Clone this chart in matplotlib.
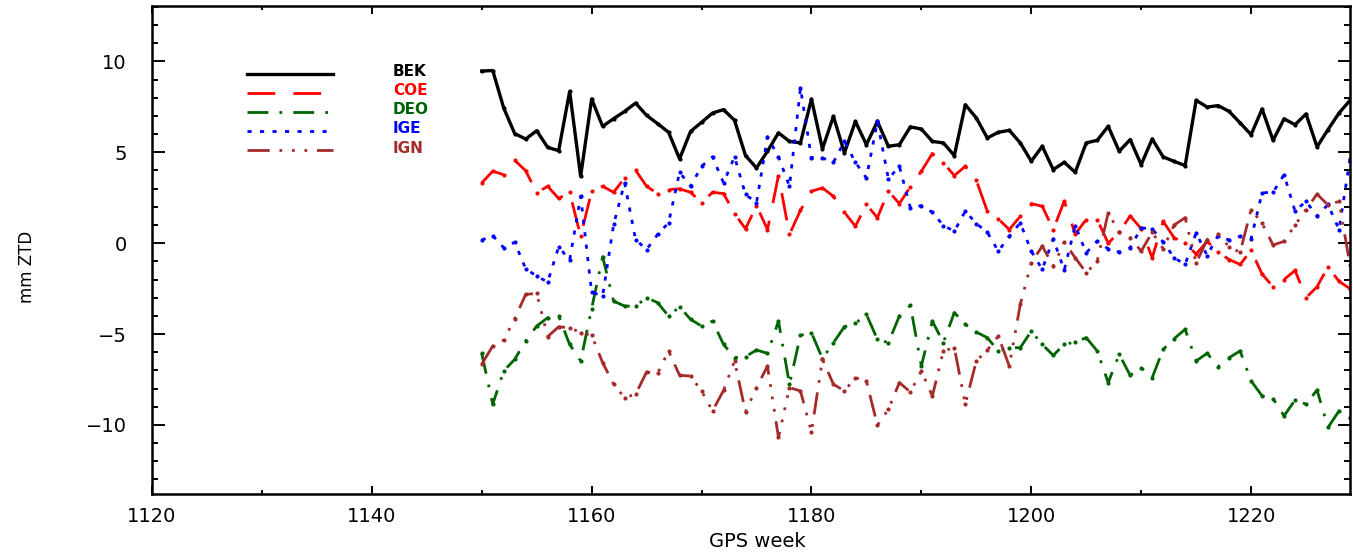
import matplotlib
matplotlib.use("Agg")
import matplotlib.pyplot as plt
from matplotlib.ticker import MultipleLocator
import numpy as np

plt.rcParams["font.family"] = ["DejaVu Sans"]
plt.rcParams["lines.scale_dashes"] = False

weeks = np.arange(1150, 1230)

bek = [9.47, 9.5, 7.44, 6.03, 5.73, 6.19, 5.27, 5.09, 8.35, 3.68,
       7.93, 6.43, 6.85, 7.25, 7.71, 7.03, 6.58, 6.1, 4.64, 6.15,
       6.65, 7.16, 7.35, 6.76, 4.82, 4.14, 5.06, 6.07, 5.6, 5.52,
       7.93, 5.19, 6.98, 4.97, 6.7, 5.42, 6.7, 5.33, 5.42, 6.4,
       6.28, 5.6, 5.52, 4.82, 7.62, 6.89, 5.79, 6.1, 6.21, 5.52,
       4.51, 5.33, 4.05, 4.45, 3.9, 5.52, 5.66, 6.43, 5.06, 5.7,
       4.32, 5.73, 4.75, 4.5, 4.27, 7.86, 7.49, 7.57, 7.25, 6.62,
       5.97, 7.38, 5.66, 6.84, 6.52, 7.11, 5.3, 6.25, 7.16, 7.86]

coe = [3.32, 3.96, 3.77, 4.56, 3.99, 2.77, 3.13, 2.46, 2.8, 0.38,
       2.86, 3.13, 2.8, 3.59, 4.01, 3.13, 2.73, 2.95, 2.99, 2.8,
       2.22, 2.8, 2.73, 1.63, 0.79, 2.07, 0.75, 3.72, 0.48, 1.81,
       2.86, 3.04, 2.58, 1.7, 0.93, 2.13, 1.4, 2.86, 2.18, 3.1,
       3.96, 4.93, 4.42, 3.72, 4.23, 3.46, 1.76, 1.34, 0.75, 1.48,
       2.18, 2.03, 0.75, 2.31, 0.5, 1.3, 1.3, 0.0, 0.6, 1.5,
       0.8, -0.8, 1.2, 0.3, 0.0, -0.6, 0.1, -0.5, -0.9, -1.17,
       -0.4, -1.7, -2.4, -2.0, -1.5, -3.0, -2.4, -1.3, -2.1, -2.5]

deo = [-6.06, -8.86, -7.03, -6.39, -5.38, -4.56, -4.1, -4.01, -5.57, -6.48,
       -3.6, -0.75, -3.19, -3.46, -3.46, -3.0, -3.27, -4.01, -3.5, -4.19,
       -4.56, -4.29, -5.57, -6.3, -6.24, -5.88, -6.06, -4.29, -7.76, -5.07,
       -4.92, -6.35, -5.47, -4.6, -4.41, -3.92, -5.29, -5.47, -4.01, -3.42,
       -6.76, -4.29, -5.47, -3.82, -4.47, -4.89, -5.2, -5.93, -5.75, -5.75,
       -4.84, -5.57, -6.17, -5.57, -5.44, -5.2, -5.93, -7.67, -6.12, -7.27,
       -6.85, -7.4, -5.84, -5.25, -4.74, -6.48, -6.06, -6.79, -6.3, -5.93,
       -7.58, -8.4, -8.55, -9.5, -8.63, -8.86, -8.08, -10.14, -9.23, -9.6]

ige = [0.17, 0.42, -0.25, 0.05, -1.41, -1.81, -2.14, -0.2, -0.93, 2.58,
       -2.7, -2.9, 1.03, 3.32, 0.2, -0.35, 0.48, 1.12, 3.9, 3.13,
       4.23, 4.75, 3.32, 4.75, 2.68, 2.22, 5.85, 4.75, 3.13, 8.54,
       4.69, 4.69, 4.45, 5.6, 4.45, 3.59, 6.7, 3.54, 4.23, 1.94,
       2.07, 1.7, 0.97, 0.66, 1.76, 1.08, 0.6, -0.44, 0.38, 1.12,
       -0.44, -1.44, 0.24, -1.48, 0.97, -0.53, 0.11, -0.31, -0.49, -0.25,
       0.84, 0.79, 0.06, -0.8, -1.17, 0.57, -0.68, 0.42, 0.17, 0.38,
       0.24, 2.77, 2.8, 3.77, 1.76, 2.31, 1.48, 2.13, 0.75, 4.64]

ign = [-6.66, -5.66, -5.33, -4.15, -2.82, -2.76, -5.14, -4.6, -4.65, -4.92,
       -5.07, -6.57, -7.76, -8.5, -8.31, -7.09, -7.16, -5.93, -7.27, -7.31,
       -8.13, -9.23, -8.1, -6.48, -9.28, -7.95, -6.76, -10.69, -7.95, -8.13,
       -10.38, -6.39, -7.76, -8.13, -7.4, -7.58, -10.02, -9.14, -7.67, -8.19,
       -7.03, -8.41, -5.93, -5.75, -8.86, -6.48, -5.88, -5.11, -6.76, -3.37,
       -1.08, -0.16, -1.26, 0.05, -0.8, -1.63, -0.99, 1.67, 0.6, 0.3,
       -0.44, 0.6, -0.3, 1.0, 1.4, -1.1, 0.2, 0.5, -0.2, -0.5,
       1.85, 1.1, -0.1, 0.1, 1.0, 1.85, 2.7, 2.1, 2.3, -1.2]

names = ["BEK", "COE", "DEO", "IGE", "IGN"]
series = [bek, coe, deo, ige, ign]
colors = ["black", "#ff0000", "#006400", "#0000ff", "#a52a2a"]
styles = ["-", (0, (20, 13)), (0, (15, 8, 2, 8)), (0, (3, 6)),
          (0, (16, 7, 2, 7, 2, 7, 2, 7))]
widths = [2.4, 2.0, 2.0, 2.0, 2.0]

fig = plt.figure(figsize=(13.53, 5.54), dpi=100)
ax = fig.add_axes([152 / 1353, 60 / 554, 1198 / 1353, 488 / 554])

for vals, c, ls, lw in zip(series, colors, styles, widths):
    ax.plot(weeks, vals, color=c, linestyle=ls, linewidth=lw,
            marker="o", markersize=3.0, markeredgewidth=0)

# legend drawn by hand: short line sample, then coloured label
for i, (name, c, ls, lw) in enumerate(zip(names, colors, styles, widths)):
    yy = 0.861 - i * 0.039
    ax.plot([0.0793, 0.151], [yy, yy], transform=ax.transAxes,
            color=c, linestyle=ls, linewidth=lw)
    ax.text(0.201, yy + 0.004, name, transform=ax.transAxes, color=c,
            fontsize=11, fontweight="bold", va="center", ha="left")

ax.set_xlim(1120, 1229)
ax.set_ylim(-13.8, 13.05)
ax.xaxis.set_major_locator(MultipleLocator(20))
ax.xaxis.set_minor_locator(MultipleLocator(10))
ax.yaxis.set_major_locator(MultipleLocator(5))
ax.yaxis.set_minor_locator(MultipleLocator(1))

ax.tick_params(axis="both", which="both", direction="in",
               top=True, right=True, width=1.4, labelsize=14)
ax.tick_params(axis="x", which="major", length=6, pad=9)
ax.tick_params(axis="x", which="minor", length=3)
ax.tick_params(axis="y", which="major", length=9, pad=18)
ax.tick_params(axis="y", which="minor", length=4.5)
for sp in ax.spines.values():
    sp.set_linewidth(1.8)

ax.set_xlabel("GPS week", fontsize=14)
ax.set_ylabel("mm ZTD", fontsize=12)
ax.xaxis.set_label_coords(0.505, -0.078)
ax.yaxis.set_label_coords(-0.0968, 0.465)

fig.savefig("out.png", dpi=100)
